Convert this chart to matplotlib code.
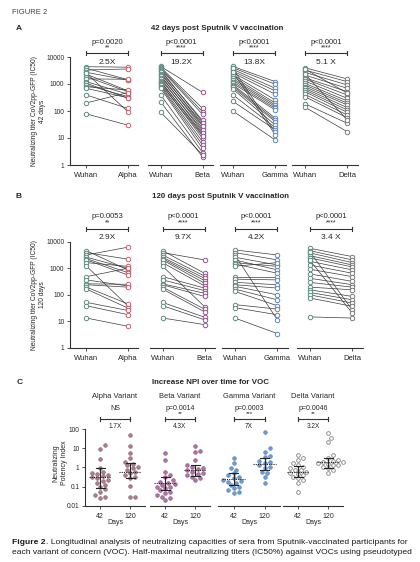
import numpy as np
import matplotlib
matplotlib.use('Agg')
import matplotlib.pyplot as plt
from matplotlib.transforms import blended_transform_factory as btf

plt.rcParams['font.family'] = ['Liberation Sans', 'DejaVu Sans']

# ---------------- data ----------------
variants = ['Alpha', 'Beta', 'Gamma', 'Delta']

# Panel A: 42 days (IC50 titers)
a_wuhan_alpha = [4370, 3800, 3300, 2700, 2300, 1860, 1540, 1220, 1060, 920, 790, 690, 390, 200, 78, 2500]
a_alpha = [4200, 1450, 3600, 1400, 560, 520, 1500, 420, 300, 340, 600, 310, 125, 480, 30, 95]
a_wuhan_beta = [4500, 4200, 3900, 3600, 3300, 3000, 2700, 2400, 2100, 1900, 1700, 1500,
                1300, 1200, 1100, 1000, 900, 800, 700, 400, 220, 90]
a_beta = [490, 125, 94, 75, 40, 45, 30, 35, 23, 28, 17, 20, 13, 15, 9.7, 12, 7.3, 5.5, 4.1, 2.9, 2.0, 2.4]
a_wuhan_gamma = [4500, 4000, 3500, 3000, 2600, 2200, 1900, 1600, 1400, 1200, 1050, 950,
                 850, 750, 650, 400, 230, 100, 3800, 2800]
a_gamma = [1220, 980, 690, 550, 415, 255, 195, 167, 145, 125, 109, 54, 46, 40, 30, 24, 20, 8.4, 16, 13]
a_wuhan_delta = [4000, 3300, 2700, 2150, 1700, 1540, 1290, 1060, 920, 790, 690, 600, 520,
                 415, 340, 186, 140, 3600, 2400]
a_delta = [1540, 1220, 920, 690, 520, 390, 295, 235, 195, 167, 133, 109, 89, 71, 56, 35, 17, 460, 46]

a_pvals = ['p=0.0020', 'p<0.0001', 'p<0.0001', 'p<0.0001']
a_stars = ['**', '****', '****', '****']
a_folds = ['2.5X', '19.2X', '13.8X', '5.1 X']

# Panel B: 120 days
b_wuhan_alpha = [4600, 3900, 3170, 2600, 2300, 2060, 1630, 1200, 485, 365, 260, 240, 195, 165, 52, 39, 13.4]
b_alpha = [870, 2200, 6200, 1000, 690, 560, 1180, 39, 1000, 217, 250, 195, 46, 32, 26, 18, 6.6]
b_wuhan_beta = [4600, 3900, 3170, 2600, 2300, 2060, 1630, 1200, 485, 365, 260, 240, 195, 165, 52, 39, 13.4]
b_beta = [650, 2060, 510, 420, 345, 275, 217, 36, 180, 145, 115, 87, 29, 23, 14.4, 11.5, 7.6]
b_wuhan_gamma = [4900, 3900, 3170, 2600, 2060, 1630, 1450, 1200, 485, 390, 295, 240, 210, 165, 135, 43, 33, 13.4]
b_gamma = [3170, 2060, 11.5, 1330, 870, 1180, 650, 1630, 485, 365, 240, 180, 100, 65, 39, 29, 17.8, 3.5]
b_wuhan_delta = [5650, 4600, 3800, 3000, 2450, 1830, 1330, 920, 615, 420, 295, 195, 155, 123,
                 100, 76, 14.8, 4200, 2000]
b_delta = [2750, 2060, 1630, 1330, 1120, 870, 650, 485, 320, 240, 195, 155, 87, 65, 49, 37, 13.4, 27, 20.5]

b_pvals = ['p=0.0053', 'p<0.0001', 'p<0.0001', 'p<0.0001']
b_stars = ['**', '****', '****', '****']
b_folds = ['2.9X', '9.7X', '4.2X', '3.4 X']

# Panel C: neutralizing potency index, 42 vs 120 days
c_alpha_42 = [14, 9.5, 2.6, 0.9, 0.6, 0.5, 0.45, 0.4, 0.35, 0.3, 0.27, 0.22, 0.2, 0.15, 0.12, 0.1,
              0.07, 0.05, 0.035, 0.03, 0.025]
c_alpha_120 = [50, 13, 5.4, 3, 2, 1.5, 1.3, 1.1, 0.9, 0.75, 0.6, 0.5, 0.4, 0.33, 0.27, 0.11, 0.03, 0.03]
c_beta_42 = [5.4, 2.3, 0.6, 0.4, 0.3, 0.22, 0.18, 0.15, 0.13, 0.12, 0.1, 0.09, 0.08, 0.066, 0.05,
             0.045, 0.035, 0.03, 0.025, 0.02]
c_beta_120 = [13, 7, 6.5, 2.3, 1.3, 1.1, 0.95, 0.8, 0.7, 0.6, 0.5, 0.45, 0.4, 0.33, 0.27, 0.22]
c_gamma_42 = [3, 1.6, 0.9, 0.75, 0.5, 0.4, 0.3, 0.27, 0.22, 0.2, 0.18, 0.15, 0.12, 0.1, 0.08,
              0.066, 0.05, 0.045]
c_gamma_120 = [70, 9.8, 6.6, 4, 3.5, 2.2, 2, 1.6, 1.3, 1.1, 0.9, 0.6, 0.5, 0.33, 0.15]
c_delta_42 = [4.4, 3, 2.4, 1.6, 1.3, 1.1, 0.9, 0.75, 0.7, 0.6, 0.5, 0.45, 0.4, 0.33, 0.27, 0.22, 0.15, 0.05]
c_delta_120 = [60, 33, 22, 4.4, 3, 2.4, 2.2, 2, 1.8, 1.6, 1.5, 1.4, 1.3, 1.1, 0.9, 0.73, 0.5]

c_center_42 = [0.3, 0.15, 0.25, 0.6]
c_center_120 = [0.6, 0.73, 1.45, 2.0]
c_low_42 = [0.08, 0.066, 0.12, 0.33]
c_high_42 = [0.9, 0.33, 0.49, 1.15]
c_low_120 = [0.27, 0.36, 0.73, 0.9]
c_high_120 = [1.6, 1.33, 3.0, 3.1]
c_titles = ['Alpha Variant', 'Beta Variant', 'Gamma Variant', 'Delta Variant']
c_pvals = ['NS', 'p=0.0014', 'p=0.0003', 'p=0.0046']
c_stars = ['', '**', '***', '**']
c_folds = ['1.7X', '4.3X', '7X', '3.2X']

# ---------------- styling ----------------
W, H = 420, 562
fig = plt.figure(figsize=(W / 100, H / 100), dpi=100)

def fx(p):
    return p / W

def fy(p):
    return 1 - p / H

TXT = '#262626'
SP = '#333333'
wuhan_col = '#5f8a80'
var_cols = ['#c4606e', '#9c4f94', '#5f86bd', '#7a7a7a']
c_face = ['#a8808f', '#b0749f', '#6f9bd0', 'white']
c_edge = ['#8a5a6c', '#8a4e80', '#4f7cb5', '#808080']

fig.text(fx(12), fy(13), 'FIGURE 2', fontsize=5.5, color='#444444', ha='left', va='center')


def style_axis(ax, first, ylim, yticks, ylabels, xlabels, xlim, xfs):
    ax.set_yscale('log')
    ax.set_ylim(*ylim)
    ax.set_xlim(*xlim)
    for s in ['top', 'right']:
        ax.spines[s].set_visible(False)
    ax.spines['bottom'].set_linewidth(0.8)
    ax.spines['bottom'].set_color(SP)
    ax.minorticks_off()
    if first:
        ax.spines['left'].set_linewidth(0.8)
        ax.spines['left'].set_color(SP)
        ax.set_yticks(yticks)
        ax.set_yticklabels(ylabels, fontsize=4.7, color=TXT)
        ax.tick_params(axis='y', length=2.5, width=0.6, pad=1.5, colors=SP, labelcolor=TXT)
    else:
        ax.spines['left'].set_visible(False)
        ax.set_yticks([])
    ax.set_xticks([0, 1])
    ax.set_xticklabels(xlabels, fontsize=xfs, color=TXT)
    ax.tick_params(axis='x', length=2, width=0.6, pad=3, colors=SP, labelcolor=TXT)
    ax.patch.set_alpha(0)


def bracket(ax, yp, ys, yb, yf, ptxt, star, fold, fsp, fss, fsf, x0=0, x1=1):
    tr = btf(ax.transData, fig.transFigure)
    xm = (x0 + x1) / 2
    ax.text(xm, fy(yp), ptxt, transform=tr, ha='center', va='center', fontsize=fsp, color=TXT)
    if star:
        ax.text(xm, fy(ys), star, transform=tr, ha='center', va='center', fontsize=fss, color=TXT)
    ax.plot([x0, x1], [fy(yb), fy(yb)], transform=tr, color=SP, lw=0.8, clip_on=False)
    for xe in (x0, x1):
        ax.plot([xe, xe], [fy(yb - 2.2), fy(yb + 2.2)], transform=tr, color=SP, lw=0.8, clip_on=False)
    ax.text(xm, fy(yf), fold, transform=tr, ha='center', va='center', fontsize=fsf, color=TXT)


def pair_panel(ax, wu, var, col):
    for a, b in zip(wu, var):
        ax.plot([0, 1], [a, b], color='#3c3c3c', lw=0.5, zorder=1, clip_on=False)
    ax.plot(np.zeros(len(wu)), wu, 'o', ms=3.2, mfc='white', mec=wuhan_col, mew=0.7,
            ls='none', zorder=2, clip_on=False)
    ax.plot(np.ones(len(var)), var, 'o', ms=3.2, mfc='white', mec=col, mew=0.7,
            ls='none', zorder=2, clip_on=False)


# ---------------- Panel A ----------------
fig.text(fx(16), fy(29), 'A', fontsize=6, fontweight='bold', color=TXT, ha='left', va='center')
fig.text(fx(217), fy(28), '42 days post Sputnik V vaccination', fontsize=5.7, fontweight='bold',
         color=TXT, ha='center', va='center')
a_boxes = [(70, 68), (148, 65), (220, 66), (292, 66)]
a_top, a_bot = 57, 165
a_w = [a_wuhan_alpha, a_wuhan_beta, a_wuhan_gamma, a_wuhan_delta]
a_v = [a_alpha, a_beta, a_gamma, a_delta]
for i, (l, w) in enumerate(a_boxes):
    ax = fig.add_axes([fx(l), fy(a_bot), w / W, (a_bot - a_top) / H])
    xlim = (-0.4, 1.25) if i == 0 else (-0.3, 1.25)
    style_axis(ax, i == 0, (1, 10000), [1, 10, 100, 1000, 10000],
               ['1', '10', '100', '1000', '10000'], ['Wuhan', variants[i]], xlim, 5.5)
    pair_panel(ax, a_w[i], a_v[i], var_cols[i])
    bracket(ax, 42, 48, 53, 62, a_pvals[i], a_stars[i], a_folds[i], 5.5, 5, 6)
fig.text(fx(39), fy(111), 'Neutralizing titer CoV2pp-GFP (IC50)\n42 days', rotation=90,
         fontsize=4.8, color=TXT, ha='center', va='center', multialignment='center')

# ---------------- Panel B ----------------
fig.text(fx(16), fy(197), 'B', fontsize=6, fontweight='bold', color=TXT, ha='left', va='center')
fig.text(fx(220), fy(197), '120 days post Sputnik V vaccination', fontsize=5.7, fontweight='bold',
         color=TXT, ha='center', va='center')
b_boxes = [(70, 68), (150, 65), (222, 66), (297, 66)]
b_top, b_bot = 241.7, 348
b_w = [b_wuhan_alpha, b_wuhan_beta, b_wuhan_gamma, b_wuhan_delta]
b_v = [b_alpha, b_beta, b_gamma, b_delta]
for i, (l, w) in enumerate(b_boxes):
    ax = fig.add_axes([fx(l), fy(b_bot), w / W, (b_bot - b_top) / H])
    xlim = (-0.4, 1.25) if i == 0 else (-0.3, 1.25)
    style_axis(ax, i == 0, (1, 10000), [1, 10, 100, 1000, 10000],
               ['1', '10', '100', '1000', '10000'], ['Wuhan', variants[i]], xlim, 5.5)
    pair_panel(ax, b_w[i], b_v[i], var_cols[i])
    bracket(ax, 217, 223, 229, 237.5, b_pvals[i], b_stars[i], b_folds[i], 5.5, 5, 6)
fig.text(fx(39), fy(295), 'Neutralizing titer CoV2pp-GFP (IC50)\n120 days', rotation=90,
         fontsize=4.8, color=TXT, ha='center', va='center', multialignment='center')

# ---------------- Panel C ----------------
fig.text(fx(17), fy(382), 'C', fontsize=6, fontweight='bold', color=TXT, ha='left', va='center')
fig.text(fx(210), fy(382), 'Increase NPI over time for VOC', fontsize=5.7, fontweight='bold',
         color=TXT, ha='center', va='center')
c_boxes = [(85, 60), (150, 60), (218, 62), (283, 60)]
c_top, c_bot = 429, 505.7
c_42 = [c_alpha_42, c_beta_42, c_gamma_42, c_delta_42]
c_120 = [c_alpha_120, c_beta_120, c_gamma_120, c_delta_120]


def swarm(vals, ppx, ppy, d):
    ly = np.log10(np.asarray(vals, dtype=float)) * ppy
    order = np.argsort(ly)
    placed = []
    xs = np.zeros(len(ly))
    steps = [0]
    for k in range(1, 12):
        steps += [k, -k]
    for i in order:
        xo = 0.0
        for k in steps:
            xo = k * d * 0.6
            if all((xo - px) ** 2 + (ly[i] - py) ** 2 >= d * d for px, py in placed):
                break
        placed.append((xo, ly[i]))
        xs[i] = xo / ppx
    return xs


for i, (l, w) in enumerate(c_boxes):
    ax = fig.add_axes([fx(l), fy(c_bot), w / W, (c_bot - c_top) / H])
    style_axis(ax, i == 0, (0.01, 100), [0.01, 0.1, 1, 10, 100],
               ['0.01', '0.1', '1', '10', '100'], ['42', '120'], (-0.5, 1.5), 5)
    ppx = w / 2.0
    ppy = (c_bot - c_top) / 4.0
    for xi, vals in [(0, c_42[i]), (1, c_120[i])]:
        xs = xi + swarm(vals, ppx, ppy, 4.2)
        if i == 3:
            ax.scatter(xs, vals, s=7, facecolors='white', edgecolors=c_edge[i], linewidths=0.6,
                       zorder=2, clip_on=False)
        else:
            ax.scatter(xs, vals, s=7, facecolors=c_face[i], edgecolors=c_edge[i], linewidths=0.4,
                       zorder=2, clip_on=False)
    for xi, cen, lo, hi in [(0, c_center_42[i], c_low_42[i], c_high_42[i]),
                            (1, c_center_120[i], c_low_120[i], c_high_120[i])]:
        ax.plot([xi, xi], [lo, hi], color='#222222', lw=0.8, zorder=3)
        ax.plot([xi - 0.15, xi + 0.15], [lo, lo], color='#222222', lw=0.8, zorder=3)
        ax.plot([xi - 0.15, xi + 0.15], [hi, hi], color='#222222', lw=0.8, zorder=3)
        ax.plot([xi - 0.38, xi + 0.38], [cen, cen], color='#222222', lw=0.8, ls=(0, (1, 1)), zorder=3)
    tr = btf(ax.transData, fig.transFigure)
    ax.text(0.5, fy(522), 'Days', transform=tr, ha='center', va='center', fontsize=5, color=TXT)
    ax.text(0.5, fy(396), c_titles[i], transform=tr, ha='center', va='center', fontsize=5.4, color=TXT)
    bracket(ax, 408, 414, 419, 427, c_pvals[i], c_stars[i], c_folds[i], 5, 4.5, 4.7)
fig.text(fx(60), fy(463), 'Neutralizing\nPotency Index', rotation=90, fontsize=5, color=TXT,
         ha='center', va='center', multialignment='center')

# ---------------- caption ----------------
bg = fig.add_axes([0, 0, 1, 1])
bg.axis('off')
bg.set_zorder(-1)
CFS = 6.1
t1 = bg.text(fx(12), fy(546.5), 'Figure 2', fontsize=CFS, fontweight='bold', color='#1a1a1a',
             ha='left', va='bottom', transform=fig.transFigure)
bg.annotate('. Longitudinal analysis of neutralizing capacities of sera from Sputnik-vaccinated participants for',
            xy=(1, 0), xycoords=t1, ha='left', va='bottom', fontsize=CFS, color='#1a1a1a')
bg.text(fx(12), fy(556.5), 'each variant of concern (VOC). Half-maximal neutralizing titers (IC50%) against VOCs using pseudotyped',
        fontsize=CFS, color='#1a1a1a', ha='left', va='bottom', transform=fig.transFigure)

fig.savefig('out.png', dpi=100)
